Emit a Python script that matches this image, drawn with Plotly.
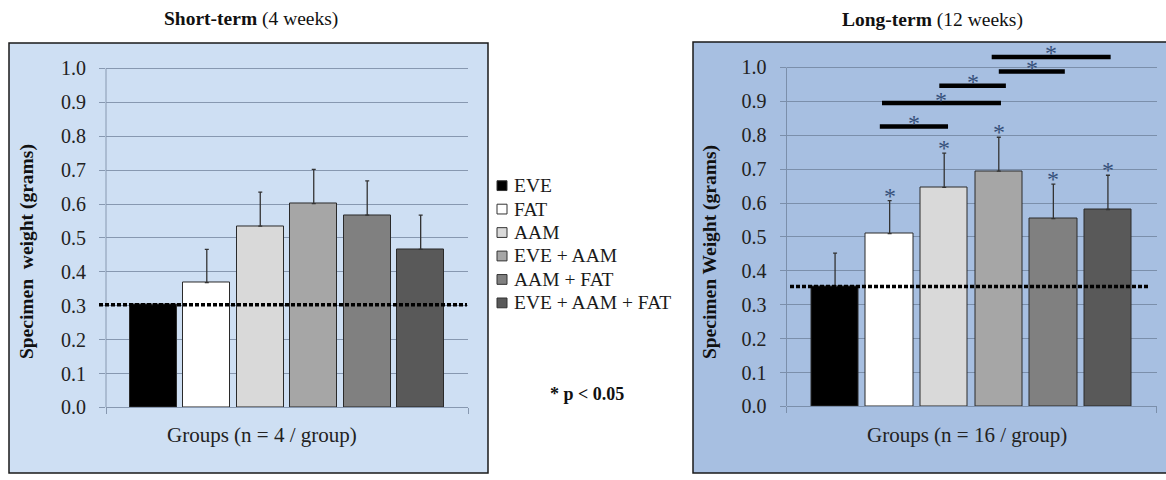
import plotly.graph_objects as go

# ---- data -------------------------------------------------------------
groups = ["EVE", "FAT", "AAM", "EVE + AAM", "AAM + FAT", "EVE + AAM + FAT"]
bar_colors = ["#000000", "#ffffff", "#d9d9d9", "#a6a6a6", "#808080", "#595959"]

short_mean = [0.303, 0.368, 0.535, 0.601, 0.567, 0.466]
short_err = [0.0, 0.098, 0.100, 0.101, 0.101, 0.101]

long_mean = [0.354, 0.510, 0.646, 0.694, 0.554, 0.581]
long_err = [0.098, 0.097, 0.101, 0.100, 0.102, 0.101]
long_star = [False, True, True, True, True, True]   # significant vs EVE

# pairwise significance brackets (long-term)
sig_x0 = [0.82, 0.86, 1.91, 3.00, 2.87]
sig_x1 = [2.07, 3.04, 3.13, 4.21, 5.05]
sig_y = [0.826, 0.895, 0.946, 0.988, 1.031]

y_ticks = [0.0, 0.1, 0.2, 0.3, 0.4, 0.5, 0.6, 0.7, 0.8, 0.9, 1.0]
y_tick_text = ["%.1f" % v for v in y_ticks]

# ---- layout helpers (pixel -> paper) ----------------------------------
W, H = 1166, 480


def fx(px):
    return px / W


def fy(py):
    return 1 - py / H


SERIF = "Liberation Serif"
YMAX = 1.1
xpos = list(range(len(groups)))

fig = go.Figure()

fig.add_trace(go.Bar(
    x=xpos, y=short_mean, width=0.88,
    marker=dict(color=bar_colors, line=dict(color="#2a2a2a", width=1)),
    error_y=dict(type="data", array=short_err, arrayminus=[0] * 6,
                 symmetric=False, color="#333333", thickness=1.3, width=2),
    xaxis="x", yaxis="y", showlegend=False, hoverinfo="skip",
))
fig.add_trace(go.Bar(
    x=xpos, y=long_mean, width=0.87,
    marker=dict(color=bar_colors, line=dict(color="#2a2a2a", width=1)),
    error_y=dict(type="data", array=long_err, arrayminus=[0] * 6,
                 symmetric=False, color="#333333", thickness=1.3, width=2),
    xaxis="x2", yaxis="y2", showlegend=False, hoverinfo="skip",
))

panels = [
    # (xaxis, yaxis, left px, right px, zero px, bg, grid)
    ("x", "y", 106, 468, 417, "#cedff3", "#8798b0"),
    ("x2", "y2", 786.5, 1156.5, 416, "#a7bfe1", "#7b8fab"),
]

shapes = []
annotations = []

# panel backgrounds
shapes.append(dict(type="rect", xref="paper", yref="paper", layer="below",
                   x0=fx(9), x1=fx(488), y0=fy(44), y1=fy(484),
                   fillcolor="#cedff3", line=dict(color="#1a1a1a", width=1.5)))
shapes.append(dict(type="rect", xref="paper", yref="paper", layer="below",
                   x0=fx(693), x1=fx(1172), y0=fy(43), y1=fy(484),
                   fillcolor="#a7bfe1", line=dict(color="#1a1a1a", width=1.5)))

for i, (xa, ya, l, r, z, bg, grid) in enumerate(panels):
    unit = 34.7 / 0.1
    top = z - YMAX * unit
    xr = 0.885 if i == 0 else 0.89
    key = "" if i == 0 else "2"
    fig.layout["xaxis" + key] = dict(
        domain=[fx(l), fx(r)], range=[-xr, 5 + xr], anchor=ya,
        showgrid=False, zeroline=False, showline=True, linecolor=grid,
        linewidth=1, ticks="outside", tickvals=[-xr, 5 + xr], ticklen=6,
        tickcolor=grid, showticklabels=False, fixedrange=True,
    )
    fig.layout["yaxis" + key] = dict(
        domain=[fy(z), fy(top)], range=[0, YMAX], anchor=xa,
        tickvals=y_ticks, ticktext=y_tick_text, showgrid=True,
        gridcolor=grid, gridwidth=1, zeroline=False, showline=False,
        ticks="outside", ticklen=6, tickcolor=grid, ticklabelstandoff=9,
        tickfont=dict(family=SERIF, size=20, color="#222222"),
        fixedrange=True,
    )
    # vertical axis line from 0 to 1.0
    shapes.append(dict(type="line", xref="paper", yref=ya,
                       x0=fx(l), x1=fx(l), y0=0, y1=1.0,
                       line=dict(color=grid, width=1)))

# dotted reference line at the EVE level
shapes.append(dict(type="line", xref="paper", yref="y",
                   x0=fx(99), x1=fx(467), y0=short_mean[0], y1=short_mean[0],
                   line=dict(color="#000000", width=3.5, dash="4px,2px")))
shapes.append(dict(type="line", xref="paper", yref="y2",
                   x0=fx(790), x1=fx(1149), y0=long_mean[0], y1=long_mean[0],
                   line=dict(color="#000000", width=3.5, dash="4px,2px")))

STAR = "#36507a"
STAR_SIZE = 24
# stars above long-term bars
for i, flag in enumerate(long_star):
    if flag:
        annotations.append(dict(xref="x2", yref="y2", x=i,
                                y=long_mean[i] + long_err[i],
                                text="*", showarrow=False, yanchor="middle",
                                yshift=5, font=dict(family=SERIF, size=STAR_SIZE, color=STAR)))

# significance brackets
for x0, x1, yv in zip(sig_x0, sig_x1, sig_y):
    shapes.append(dict(type="line", xref="x2", yref="y2", x0=x0, x1=x1,
                       y0=yv, y1=yv, line=dict(color="#000000", width=4.5)))
    annotations.append(dict(xref="x2", yref="y2", x=(x0 + x1) / 2, y=yv,
                            text="*", showarrow=False, yanchor="middle",
                            yshift=3.5, font=dict(family=SERIF, size=STAR_SIZE, color=STAR)))

# titles
annotations.append(dict(xref="paper", yref="paper", x=fx(251), y=fy(19),
                        text="<b>Short-term</b> (4 weeks)", showarrow=False,
                        xanchor="center", yanchor="middle",
                        font=dict(family=SERIF, size=19.5, color="#111111")))
annotations.append(dict(xref="paper", yref="paper", x=fx(932), y=fy(20),
                        text="<b>Long-term</b> (12 weeks)", showarrow=False,
                        xanchor="center", yanchor="middle",
                        font=dict(family=SERIF, size=19.5, color="#111111")))

# axis titles
annotations.append(dict(xref="paper", yref="paper", x=fx(262), y=fy(445),
                        text="Groups (n = 4 / group)", showarrow=False,
                        xanchor="center", yanchor="middle",
                        font=dict(family=SERIF, size=21, color="#222222")))
annotations.append(dict(xref="paper", yref="paper", x=fx(967), y=fy(445),
                        text="Groups (n = 16 / group)", showarrow=False,
                        xanchor="center", yanchor="middle",
                        font=dict(family=SERIF, size=21, color="#222222")))
annotations.append(dict(xref="paper", yref="paper", x=fx(27), y=fy(258),
                        text="<b>Specimen&nbsp; weight (grams)</b>", showarrow=False,
                        textangle=-90, xanchor="center", yanchor="middle",
                        font=dict(family=SERIF, size=19.5, color="#111111")))
annotations.append(dict(xref="paper", yref="paper", x=fx(710), y=fy(258),
                        text="<b>Specimen Weight (grams)</b>", showarrow=False,
                        textangle=-90, xanchor="center", yanchor="middle",
                        font=dict(family=SERIF, size=19.5, color="#111111")))

# legend
for i, (name, col) in enumerate(zip(groups, bar_colors)):
    cy = 190 + 24 * i
    shapes.append(dict(type="rect", xref="paper", yref="paper",
                       x0=fx(497), x1=fx(507), y0=fy(cy - 5), y1=fy(cy + 5),
                       fillcolor=col, line=dict(color="#333333", width=1)))
    annotations.append(dict(xref="paper", yref="paper", x=fx(512), y=fy(cy),
                            text=name, showarrow=False, xanchor="left",
                            yanchor="middle",
                            font=dict(family=SERIF, size=19.5, color="#1a1a1a")))

annotations.append(dict(xref="paper", yref="paper", x=fx(587), y=fy(403),
                        text="<b>* p &lt; 0.05</b>", showarrow=False,
                        xanchor="center", yanchor="middle",
                        font=dict(family=SERIF, size=18, color="#111111")))

fig.update_layout(
    width=W, height=H, margin=dict(l=0, r=0, t=0, b=0),
    paper_bgcolor="#ffffff", plot_bgcolor="rgba(0,0,0,0)",
    shapes=shapes, annotations=annotations, bargap=0,
)

fig.write_html("out.html", config={"displayModeBar": False})
